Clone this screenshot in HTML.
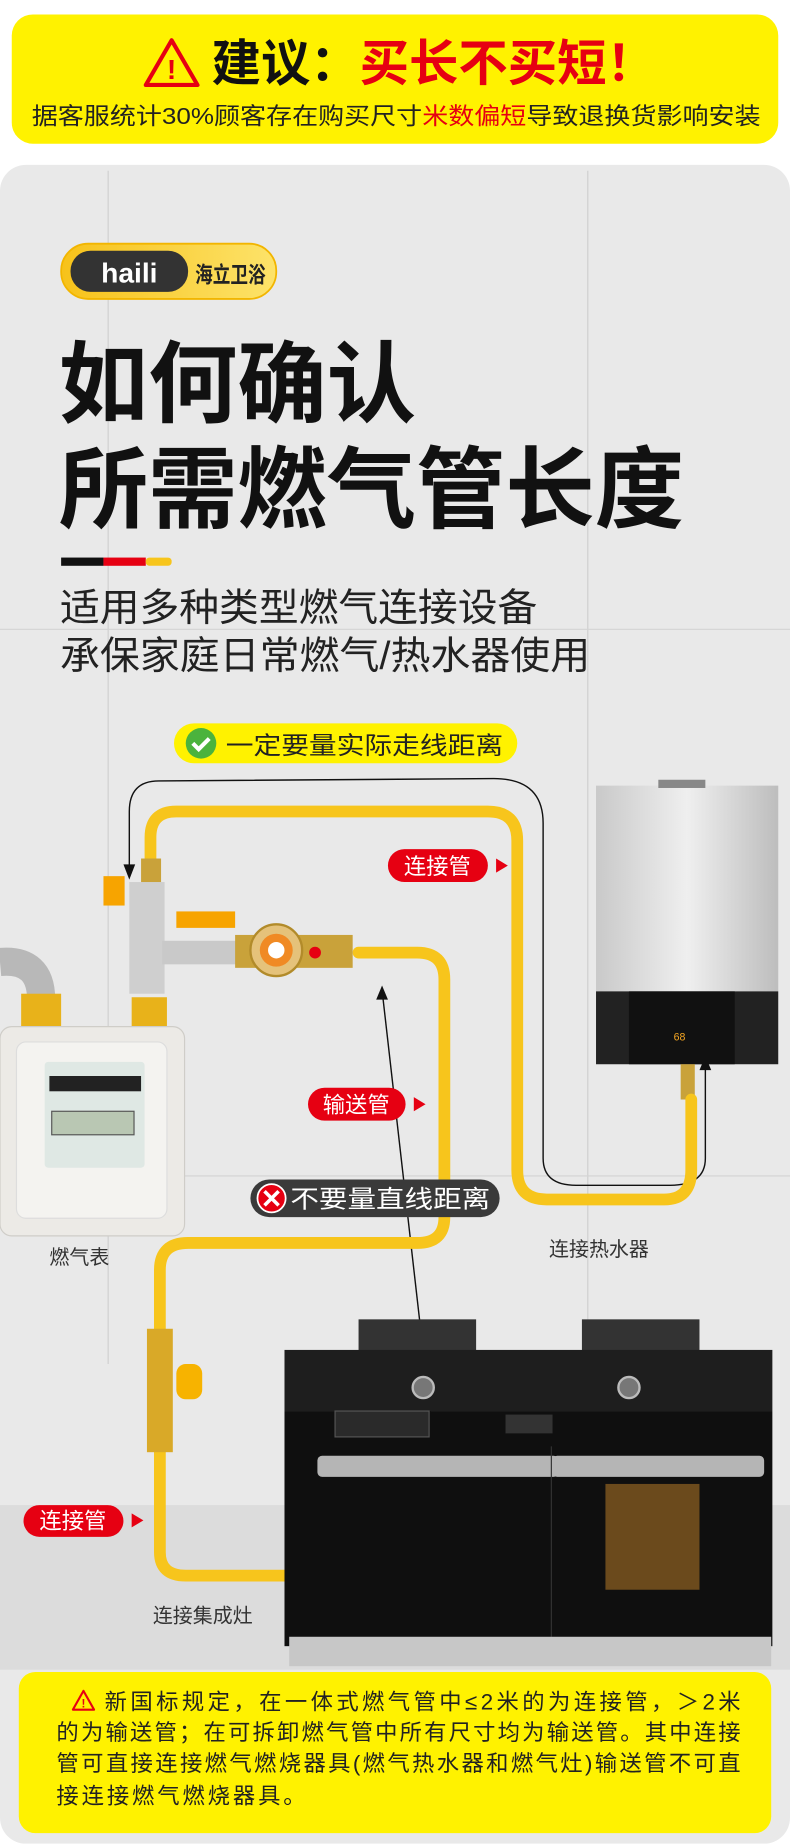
<!DOCTYPE html>
<html><head><meta charset="utf-8"><style>
html,body{margin:0;padding:0;background:#fff;}
svg{display:block;}
text{font-family:"Liberation Sans","Noto Sans CJK SC",sans-serif;}
</style></head><body>
<svg width="790" height="1844" viewBox="0 0 672 1568" xmlns="http://www.w3.org/2000/svg">
<defs>
<linearGradient id="wh" x1="0" x2="1"><stop offset="0" stop-color="#c9c9c9"/><stop offset=".5" stop-color="#efefef"/><stop offset="1" stop-color="#bdbdbd"/></linearGradient>
<linearGradient id="logo" x1="0" x2="1"><stop offset="0" stop-color="#f7c21a"/><stop offset="1" stop-color="#fde36a"/></linearGradient>
</defs>
<rect width="672" height="1568" fill="#fff"/>
<rect x="10" y="12" width="652" height="110" rx="18" fill="#fff200"/>
<path d="M146 34 L168 72 L124 72 Z" fill="none" stroke="#e60012" stroke-width="3.5" stroke-linejoin="round"/>
<text x="146" y="67" font-size="24" font-weight="bold" fill="#e60012" text-anchor="middle">!</text>
<text x="180" y="68" font-size="42" font-weight="bold" fill="#111">建议：<tspan fill="#e60012">买长不买短！</tspan></text>
<text x="27" y="105" font-size="20" fill="#222" textLength="620" lengthAdjust="spacingAndGlyphs">据客服统计30%顾客存在购买尺寸<tspan fill="#e60012">米数偏短</tspan>导致退换货影响安装</text>
<rect x="0" y="140" width="672" height="1428" rx="22" fill="#e9e9e9"/>
<line x1="92" y1="145" x2="92" y2="1160" stroke="#cfcfcf"/>
<line x1="500" y1="145" x2="500" y2="1160" stroke="#cfcfcf"/>
<line x1="0" y1="535" x2="672" y2="535" stroke="#d3d3d3"/>
<line x1="0" y1="1000" x2="672" y2="1000" stroke="#d3d3d3"/>
<rect x="0" y="1280" width="672" height="140" fill="#dcdcdc"/>
<rect x="52" y="207" width="183" height="47" rx="23" fill="url(#logo)" stroke="#f2b500" stroke-width="1.5"/>
<rect x="60" y="213" width="100" height="35" rx="17" fill="#333"/>
<text x="110" y="240" font-size="24" font-weight="bold" fill="#fff" text-anchor="middle">haili</text>
<text x="166" y="240" font-size="19" font-weight="bold" fill="#222" textLength="60" lengthAdjust="spacingAndGlyphs">海立卫浴</text>
<text x="50" y="353" font-size="76" font-weight="bold" fill="#111">如何确认</text>
<text x="50" y="443" font-size="76" font-weight="bold" fill="#111">所需燃气管长度</text>
<rect x="52" y="474" width="36" height="7" fill="#111"/>
<rect x="88" y="474" width="36" height="7" fill="#e60012"/>
<rect x="124" y="474" width="22" height="7" rx="3" fill="#f7c51c"/>
<text x="51" y="528" font-size="33" fill="#222" textLength="406" lengthAdjust="spacingAndGlyphs">适用多种类型燃气连接设备</text>
<text x="51" y="569" font-size="33" fill="#222" textLength="451" lengthAdjust="spacingAndGlyphs">承保家庭日常燃气/热水器使用</text>
<rect x="148" y="615" width="292" height="34" rx="17" fill="#fff200"/>
<circle cx="171" cy="632" r="13" fill="#4bb33d"/>
<path d="M164 632 l5 5 l9 -9" stroke="#fff" stroke-width="3.5" fill="none"/>
<text x="192" y="641" font-size="21" fill="#222" textLength="236" lengthAdjust="spacingAndGlyphs">一定要量实际走线距离</text>
<path d="M110 745 L110 690 Q110 664 135 664 L420 662 Q462 662 462 700 L462 985 Q462 1008 490 1008 L570 1008 Q600 1008 600 985 L600 905" fill="none" stroke="#111" stroke-width="1.2"/>
<path d="M105 735 L110 748 L115 735 Z" fill="#111"/>
<path d="M595 910 L600 898 L605 910 Z" fill="#111"/>
<line x1="325" y1="842" x2="368" y2="1220" stroke="#111" stroke-width="1.2"/>
<path d="M320 850 L325 838 L330 850 Z" fill="#111"/>
<path d="M363 1212 L368 1225 L373 1212 Z" fill="#111"/>
<rect x="507" y="668" width="155" height="175" fill="url(#wh)"/>
<rect x="560" y="663" width="40" height="7" fill="#888"/>
<rect x="507" y="843" width="155" height="62" fill="#222"/>
<rect x="535" y="843" width="90" height="62" fill="#111"/>
<text x="573" y="885" font-size="9" fill="#f5a623">68</text>
<rect x="579" y="905" width="12" height="30" fill="#c9a23a"/>
<g fill="none" stroke="#f7c51c" stroke-width="10" stroke-linecap="round">
<path d="M128 735 L128 712 Q128 690 150 690 L415 690 Q440 690 440 715 L440 995 Q440 1020 465 1020 L565 1020 Q588 1020 588 995 L588 935"/>
<path d="M305 810 L355 810 Q378 810 378 833 L378 1035 Q378 1057 355 1057 L160 1057 Q136 1057 136 1080 L136 1130"/>
<path d="M136 1235 L136 1320 Q136 1340 158 1340 L245 1340"/>
</g>
<rect x="120" y="730" width="17" height="28" fill="#c9a23a"/>
<rect x="110" y="750" width="30" height="95" fill="#cfcfcf"/>
<rect x="88" y="745" width="18" height="25" fill="#f7a400"/>
<rect x="150" y="775" width="50" height="14" fill="#f7a400"/>
<rect x="138" y="800" width="65" height="20" fill="#c9c9c9"/>
<rect x="200" y="795" width="100" height="28" fill="#c9a23a"/>
<circle cx="235" cy="808" r="22" fill="#e5c27a" stroke="#b28b2a" stroke-width="2"/>
<circle cx="235" cy="808" r="14" fill="#f08a24"/>
<circle cx="235" cy="808" r="7" fill="#fff"/>
<circle cx="268" cy="810" r="5" fill="#e60012"/>
<rect x="112" y="848" width="30" height="25" fill="#e8b21a"/>
<path d="M0 818 Q35 815 35 850 L35 860" fill="none" stroke="#b8b8b8" stroke-width="24"/>
<rect x="18" y="845" width="34" height="28" fill="#e8b21a"/>
<rect x="0" y="873" width="157" height="178" rx="10" fill="#eceae6" stroke="#cfcdc8"/>
<rect x="14" y="886" width="128" height="150" rx="8" fill="#f4f3f0" stroke="#ddd"/>
<rect x="38" y="903" width="85" height="90" rx="3" fill="#dfe8e4"/>
<rect x="42" y="915" width="78" height="13" fill="#222"/>
<rect x="44" y="945" width="70" height="20" fill="#b9c7b3" stroke="#555"/>
<text x="42" y="1075" font-size="17" fill="#333">燃气表</text>
<rect x="305" y="1122" width="100" height="28" fill="#333"/>
<rect x="495" y="1122" width="100" height="28" fill="#333"/>
<rect x="242" y="1148" width="415" height="52" fill="#1e1e1e"/>
<rect x="242" y="1200" width="415" height="200" fill="#0f0f0f"/>
<circle cx="360" cy="1180" r="9" fill="#777" stroke="#bbb" stroke-width="2"/>
<circle cx="535" cy="1180" r="9" fill="#777" stroke="#bbb" stroke-width="2"/>
<rect x="285" y="1200" width="80" height="22" fill="#2a2a2a" stroke="#555"/>
<rect x="430" y="1203" width="40" height="16" fill="#333"/>
<rect x="270" y="1238" width="205" height="18" rx="4" fill="#b5b5b5"/>
<rect x="470" y="1238" width="180" height="18" rx="4" fill="#b5b5b5"/>
<line x1="469" y1="1230" x2="469" y2="1392" stroke="#333"/>
<rect x="515" y="1262" width="80" height="90" fill="#6b4a1c"/>
<rect x="246" y="1392" width="410" height="25" fill="#c7c7c7"/>
<text x="130" y="1380" font-size="17" fill="#333">连接集成灶</text>
<text x="467" y="1068" font-size="17" fill="#333">连接热水器</text>
<rect x="125" y="1130" width="22" height="105" fill="#d9a928"/>
<rect x="150" y="1160" width="22" height="30" rx="8" fill="#f7b300"/>
<rect x="330" y="722" width="85" height="28" rx="14" fill="#e60012"/>
<text x="372" y="743" font-size="19" fill="#fff" text-anchor="middle">连接管</text>
<path d="M422 730 L432 736 L422 742 Z" fill="#e60012"/>
<rect x="262" y="925" width="83" height="28" rx="14" fill="#e60012"/>
<text x="303" y="946" font-size="19" fill="#fff" text-anchor="middle">输送管</text>
<path d="M352 933 L362 939 L352 945 Z" fill="#e60012"/>
<rect x="213" y="1003" width="212" height="32" rx="16" fill="#3a3a3a"/>
<circle cx="231" cy="1019" r="12" fill="#e60012" stroke="#fff" stroke-width="1.5"/>
<path d="M225 1013 l12 12 M237 1013 l-12 12" stroke="#fff" stroke-width="3"/>
<text x="247" y="1027" font-size="21" fill="#fff" textLength="170" lengthAdjust="spacingAndGlyphs">不要量直线距离</text>
<rect x="20" y="1280" width="85" height="27" rx="13.5" fill="#e60012"/>
<text x="62" y="1300" font-size="19" fill="#fff" text-anchor="middle">连接管</text>
<path d="M112 1287 L122 1293 L112 1299 Z" fill="#e60012"/>
<rect x="16" y="1422" width="640" height="137" rx="14" fill="#fff200"/>
<path d="M71 1438 L80 1454 L62 1454 Z" fill="none" stroke="#e60012" stroke-width="1.8" stroke-linejoin="round"/>
<text x="71" y="1452" font-size="10" font-weight="bold" fill="#e60012" text-anchor="middle">!</text>
<g font-size="19" fill="#222">
<text x="89" y="1454" textLength="541" lengthAdjust="spacing">新国标规定，在一体式燃气管中≤2米的为连接管，＞2米</text>
<text x="48" y="1480" textLength="582" lengthAdjust="spacing">的为输送管；在可拆卸燃气管中所有尺寸均为输送管。其中连接</text>
<text x="48" y="1506" textLength="582" lengthAdjust="spacing">管可直接连接燃气燃烧器具(燃气热水器和燃气灶)输送管不可直</text>
<text x="48" y="1534" textLength="212" lengthAdjust="spacing">接连接燃气燃烧器具。</text>
</g>
</svg>
</body></html>
